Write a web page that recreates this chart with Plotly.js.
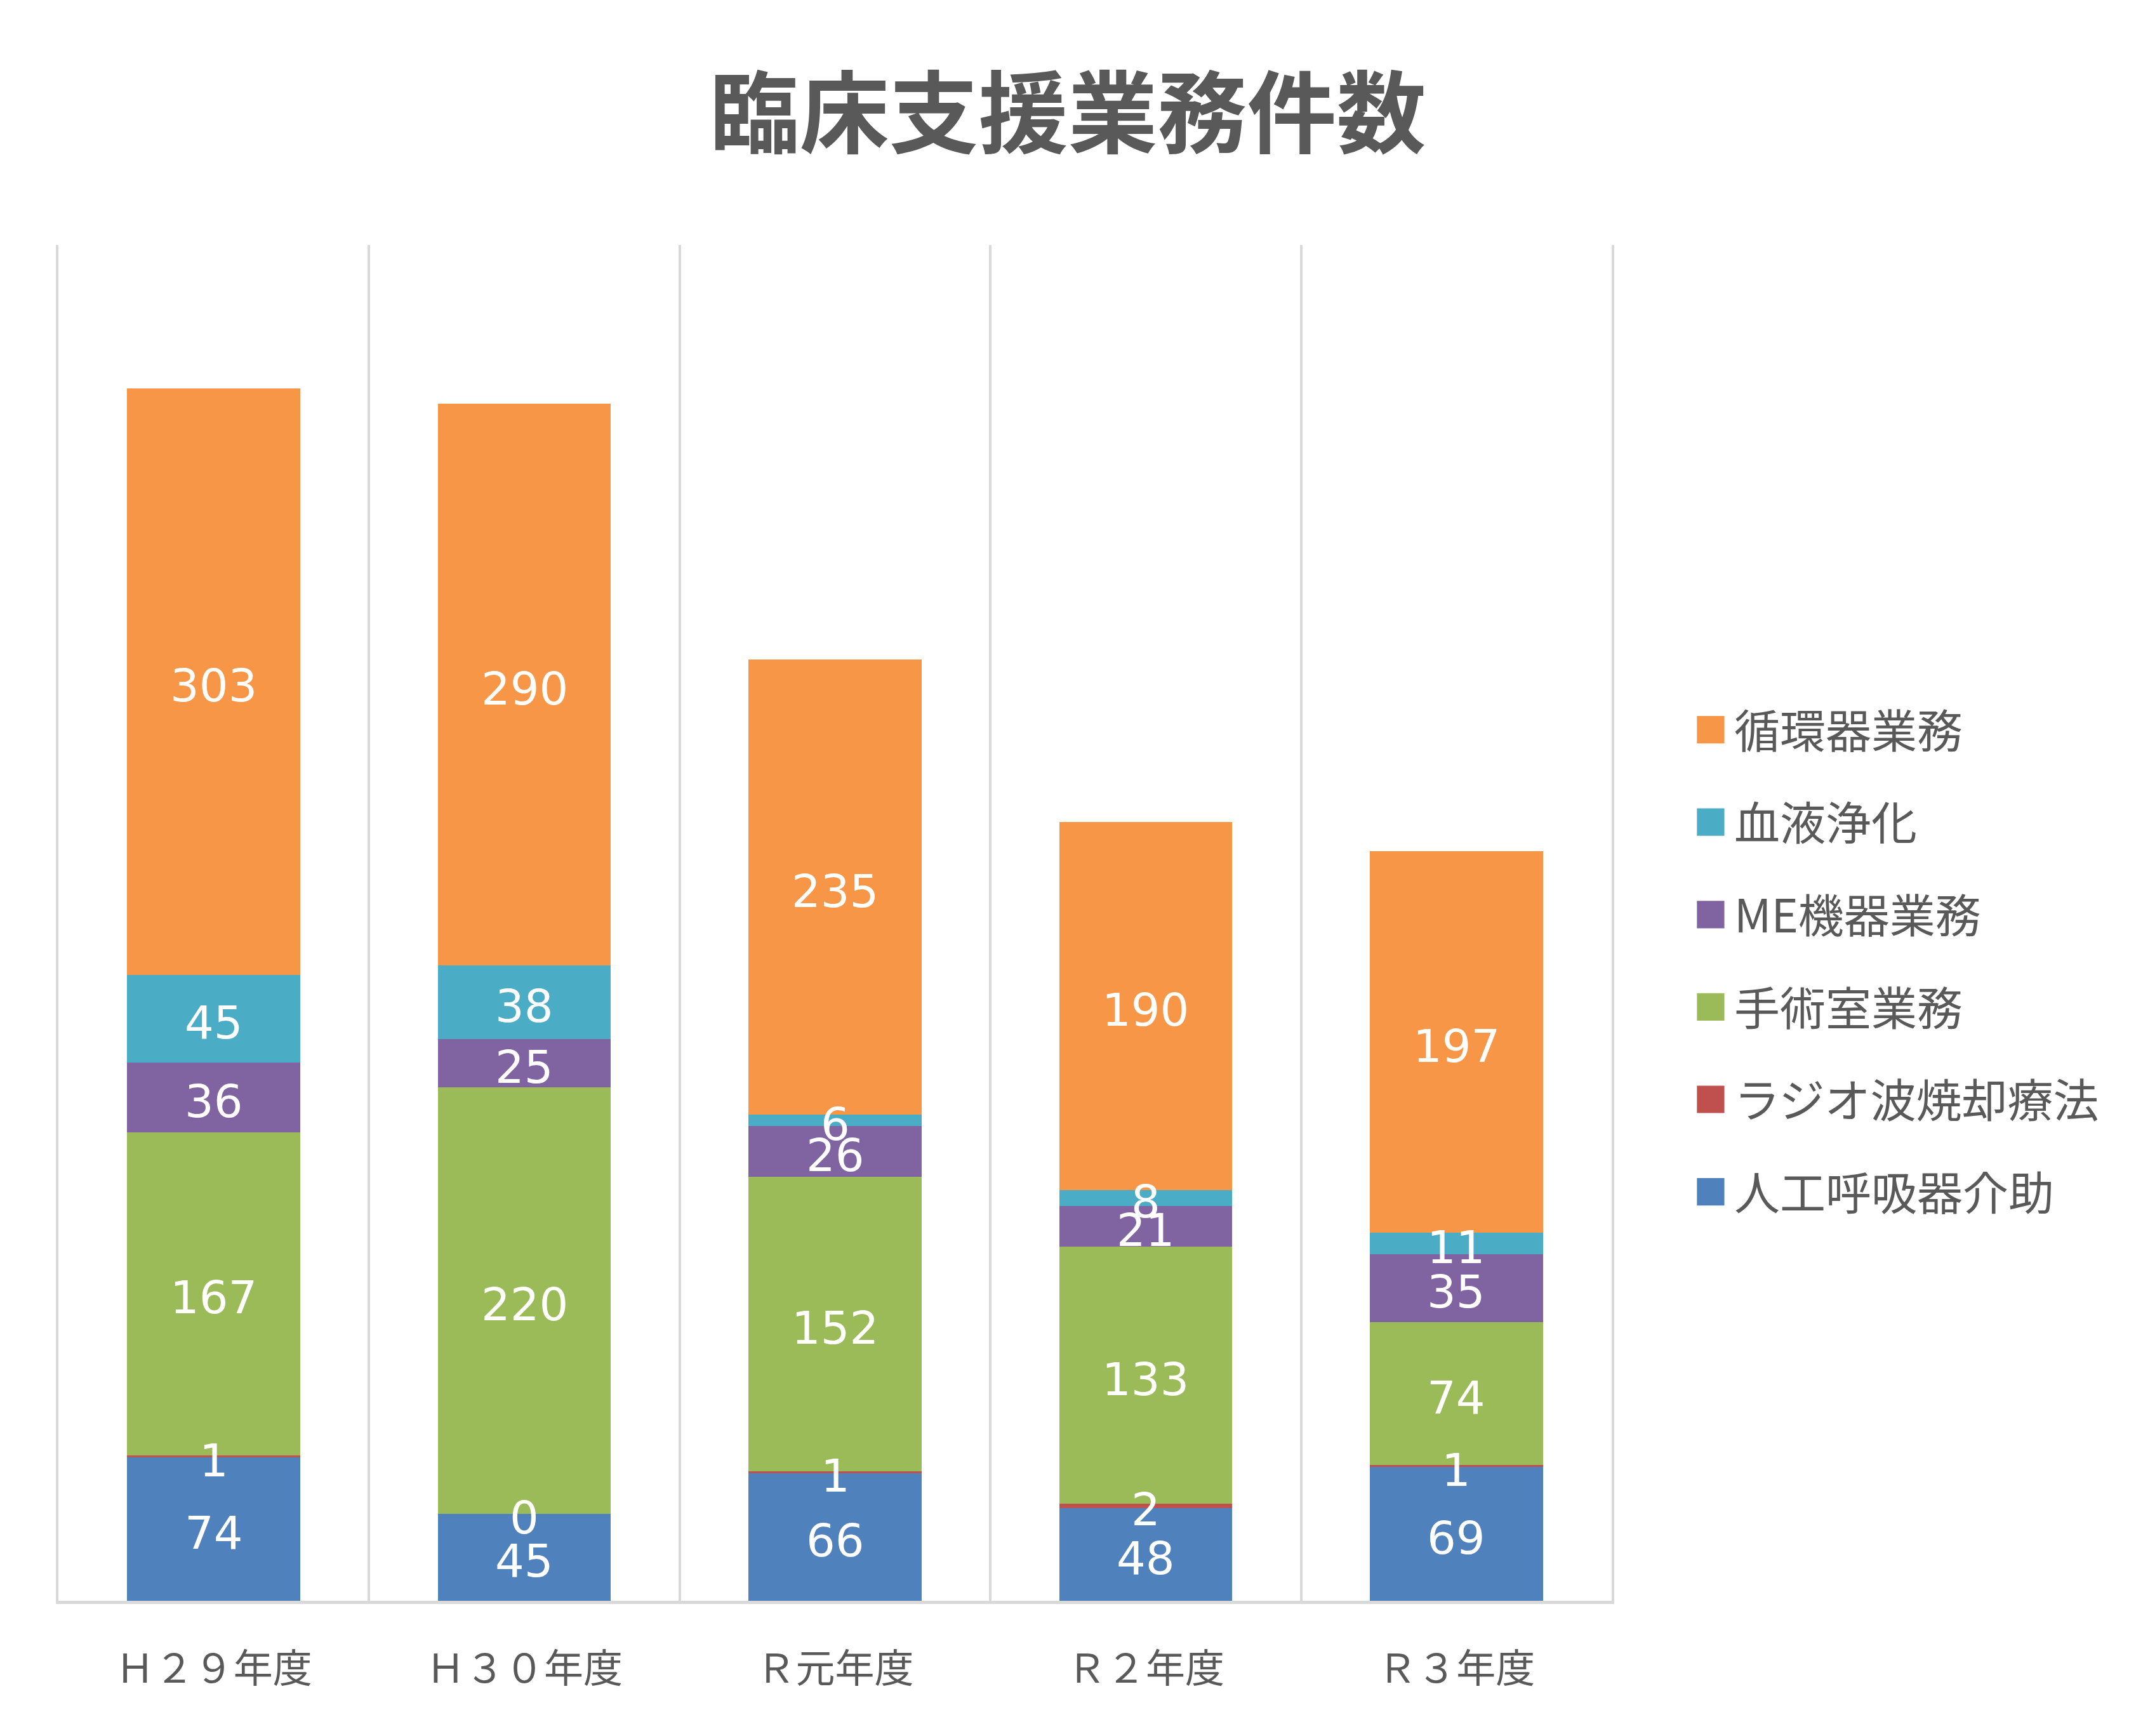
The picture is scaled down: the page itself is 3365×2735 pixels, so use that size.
<!DOCTYPE html>
<html>
<head>
<meta charset="utf-8">
<script src="https://cdn.plot.ly/plotly-3.0.1.min.js"></script>
<style>html,body{margin:0;padding:0;background:#fff;}#chart{width:3365px;height:2735px;}</style>
</head>
<body>
<div id="chart"></div>
<script>
const categories = ['Ｈ２９年度', 'Ｈ３０年度', 'Ｒ元年度', 'Ｒ２年度', 'Ｒ３年度'];
const seriesNames = ['人工呼吸器介助', 'ラジオ波焼却療法', '手術室業務', 'ME機器業務', '血液浄化', '循環器業務'];
const ventilator = [74, 45, 66, 48, 69];
const radiofrequency = [1, 0, 1, 2, 1];
const operatingRoom = [167, 220, 152, 133, 74];
const meEquipment = [36, 25, 26, 21, 35];
const bloodPurification = [45, 38, 6, 8, 11];
const cardiovascular = [303, 290, 235, 190, 197];
const colors = ['#4F81BD', '#C0504D', '#9BBB59', '#8064A2', '#4BACC6', '#F79646'];

const seriesValues = [ventilator, radiofrequency, operatingRoom, meEquipment, bloodPurification, cardiovascular];

const traces = [];
seriesValues.forEach((vals, i) => {
  traces.push({
    type: 'bar',
    name: seriesNames[i],
    x: categories,
    y: vals,
    marker: {color: colors[i], line: {width: 0}},
    legendgroup: 'g' + i,
    legendrank: seriesValues.length - i,
    hoverinfo: 'skip'
  });
});

// data labels at segment centers (value labels, like the reference)
const annotations = [];
const cum = categories.map(() => 0);
seriesValues.forEach((vals, i) => {
  vals.forEach((v, j) => {
    const mid = cum[j] + v / 2;
    cum[j] += v;
    annotations.push({
      x: categories[j], y: mid, xref: 'x', yref: 'y',
      text: String(v), showarrow: false,
      xanchor: 'center', yanchor: 'middle', yshift: -6,
      font: {family: 'DejaVu Sans', size: 72, color: '#FFFFFF'}
    });
  });
});

const layout = {
  width: 3365,
  height: 2735,
  paper_bgcolor: '#FFFFFF',
  plot_bgcolor: '#FFFFFF',
  font: {family: 'Noto Sans CJK JP', color: '#595959'},
  margin: {l: 92, r: 826, t: 386, b: 213},
  title: {
    text: '<b>臨床支援業務件数</b>',
    font: {family: 'Noto Sans CJK JP', size: 141, color: '#595959'},
    x: 0.5, xref: 'container', xanchor: 'center',
    y: 1 - 181 / 2735, yref: 'container', yanchor: 'middle'
  },
  barmode: 'stack',
  bargap: 0.443,
  showlegend: true,
  hovermode: false,
  annotations: annotations,
  legend: {
    x: 1.0486, xanchor: 'left',
    y: 0.472, yanchor: 'middle',
    font: {family: 'Noto Sans CJK JP', size: 72, color: '#595959'},
    traceorder: 'grouped',
    tracegroupgap: 49,
    itemwidth: 64,
    bgcolor: 'rgba(0,0,0,0)'
  },
  xaxis: {
    type: 'category',
    range: [-0.5, 4.5],
    tickson: 'boundaries',
    showgrid: true,
    gridcolor: '#D9D9D9',
    gridwidth: 4,
    showline: true,
    linecolor: '#D9D9D9',
    linewidth: 5,
    ticks: '',
    tickfont: {family: 'Noto Sans CJK JP', size: 62, color: '#595959'},
    ticklabelstandoff: 50,
    fixedrange: true
  },
  yaxis: {
    range: [0, 700],
    showticklabels: false,
    showgrid: false,
    zeroline: false,
    showline: true,
    mirror: true,
    linecolor: '#D9D9D9',
    linewidth: 4,
    ticks: '',
    fixedrange: true
  }
};

Plotly.newPlot('chart', traces, layout, {staticPlot: true, displayModeBar: false}).then(() => {
  document.querySelectorAll('.legend .legendpoints path').forEach(p => {
    const t = p.getAttribute('transform') || '';
    p.setAttribute('transform', t + ' scale(3.6)');
  });
});
</script>
</body>
</html>
